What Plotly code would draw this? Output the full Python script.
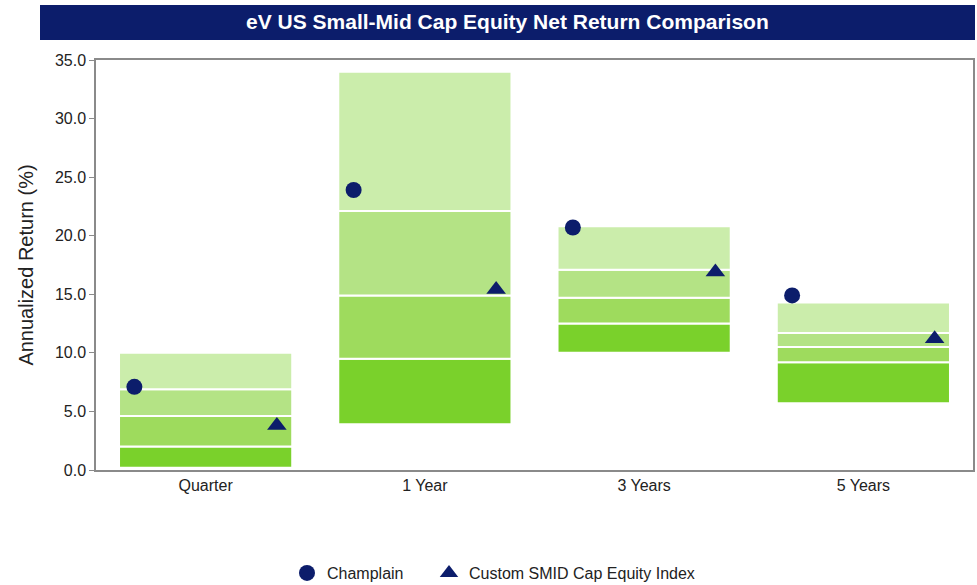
import plotly.graph_objects as go

# Peer-universe return percentiles (annualized %, net of fees)
periods = ["Quarter", "1 Year", "3 Years", "5 Years"]
p95 = [10.0, 34.0, 20.8, 14.3]
p75 = [6.9, 22.1, 17.1, 11.7]
p50 = [4.6, 14.9, 14.7, 10.5]
p25 = [2.0, 9.5, 12.5, 9.2]
p05 = [0.2, 3.9, 10.0, 5.7]

champlain = [7.1, 23.9, 20.7, 14.9]
smid_index = [3.8, 15.4, 16.9, 11.2]

yticks = [0, 5, 10, 15, 20, 25, 30, 35]

# figure geometry (pixels)
W, H = 977, 585
ML, MR, MT, MB = 96, 4, 60, 115
PW, PH = W - ML - MR, H - MT - MB

NAVY = "#0c1d6b"
FONT = "Liberation Sans, Arial, sans-serif"
band_colors = ["#7ad12b", "#9edb5d", "#b4e385", "#cbedab"]  # bottom -> top
band_names = ["5th-25th", "25th-Median", "Median-75th", "75th-95th"]

x = list(range(len(periods)))
edges = [p05, p25, p50, p75, p95]

fig = go.Figure()

for k in range(4):
    lo, hi = edges[k], edges[k + 1]
    fig.add_trace(go.Bar(
        x=x,
        y=[h - l for l, h in zip(lo, hi)],
        base=lo,
        width=0.79,
        marker=dict(color=band_colors[k], line=dict(color="white", width=2)),
        name=band_names[k],
        showlegend=False,
        hoverinfo="skip",
    ))

offset = 0.325
fig.add_trace(go.Scatter(
    x=[i - offset for i in x], y=champlain,
    mode="markers", name="Champlain", legend="legend",
    marker=dict(symbol="circle", size=16, color=NAVY),
))
fig.add_trace(go.Scatter(
    x=[i + offset for i in x], y=smid_index,
    mode="markers", name="Custom SMID Cap Equity Index", legend="legend2",
    marker=dict(symbol="triangle-up", size=17, color=NAVY),
))


def px_x(p):
    return (p - ML) / PW


def px_y(p):
    return (H - MB - p) / PH


# title banner
fig.add_shape(type="rect", xref="paper", yref="paper",
              x0=px_x(40), x1=px_x(975), y0=px_y(40), y1=px_y(5),
              fillcolor=NAVY, line=dict(width=0), layer="above")
fig.add_annotation(xref="paper", yref="paper", x=px_x(507), y=px_y(22),
                   text="<b>eV US Small-Mid Cap Equity Net Return Comparison</b>",
                   showarrow=False, xanchor="center", yanchor="middle",
                   font=dict(family="Liberation Sans Narrow, Arial Narrow, " + FONT,
                             size=21, color="white"))

legend_style = dict(orientation="h", y=px_y(573), xanchor="left", yanchor="middle",
                    font=dict(size=16, color="#222222"), itemwidth=30,
                    bgcolor="rgba(0,0,0,0)")

fig.update_layout(
    width=W, height=H,
    margin=dict(l=ML, r=MR, t=MT, b=MB, autoexpand=False),
    paper_bgcolor="white", plot_bgcolor="white",
    barmode="overlay",
    font=dict(family=FONT, size=16, color="#222222"),
    legend=dict(x=px_x(287), **legend_style),
    legend2=dict(x=px_x(429), **legend_style),
    xaxis=dict(range=[-0.5, 3.5], tickvals=x, ticktext=periods,
               showgrid=False, zeroline=False, ticks="",
               showline=True, mirror=True, linecolor="#8a8a8a", linewidth=1.5,
               tickfont=dict(size=16, color="#222222")),
    yaxis=dict(range=[0, 35], tickvals=yticks, tickformat=".1f",
               showgrid=False, zeroline=False,
               ticks="outside", ticklen=5, tickcolor="#8a8a8a", tickwidth=1,
               showline=True, mirror=True, linecolor="#8a8a8a", linewidth=1.5,
               tickfont=dict(size=16, color="#222222"),
               title=dict(text="Annualized Return (%)", standoff=16,
                          font=dict(size=20, color="#222222"))),
)

fig.write_html("out.html")
